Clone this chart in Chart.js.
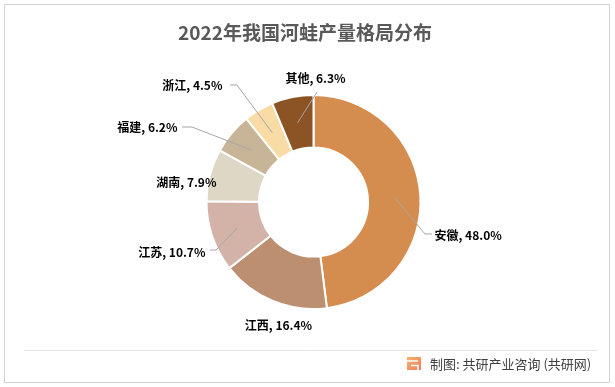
<!DOCTYPE html>
<html>
<head>
<meta charset="utf-8">
<script src="https://cdn.jsdelivr.net/npm/chart.js@4.4.1/dist/chart.umd.min.js"></script>
<style>
  html, body { margin: 0; padding: 0; background: #fff; }
  #pie { display: block; }
</style>
</head>
<body>
<canvas id="pie" width="615" height="387"></canvas>
<script>
var provinces = ["安徽", "江西", "江苏", "湖南", "福建", "浙江", "其他"];
var shares = [48.0, 16.4, 10.7, 7.9, 6.2, 4.5, 6.3];
var sliceColors = ["#D58D4F", "#BB8F6F", "#D3B3A8", "#DED7C5", "#C8B497", "#F9DBA6", "#8C5325"];

var titleText = "2022年我国河蛙产量格局分布";
var sourceText = "制图: 共研产业咨询 (共研网)";

// label placement relative to the doughnut centre (layout only)
// t: text anchor, align: text alignment, lead: leader line points after the arc point
var labelLayout = [
  { t: [121, 33], align: "left", lead: [[111.5, 32], [118.5, 32]] },
  { t: [-35, 123], align: "center", lead: null },
  { t: [-108, 50], align: "right", lead: [[-97.5, 48], [-103.5, 48]] },
  { t: [-97, -20], align: "right", lead: null },
  { t: [-136, -75], align: "right", lead: [[-121.5, -75], [-131.5, -75]] },
  { t: [-91, -117], align: "right", lead: [[-76.5, -117], [-83.5, -117]] },
  { t: [2, -124], align: "center", lead: [[3.5, -110]] }
];

var CJK = '"Noto Sans CJK SC", "Noto Sans", sans-serif';

var decorPlugin = {
  id: "decor",
  beforeDraw: function(chart) {
    var ctx = chart.ctx;
    ctx.save();
    ctx.fillStyle = "#ffffff";
    ctx.fillRect(0, 0, chart.width, chart.height);
    ctx.restore();
  },
  afterDraw: function(chart) {
    var ctx = chart.ctx;
    ctx.save();

    // frame
    ctx.strokeStyle = "#d4d4d4";
    ctx.lineWidth = 1;
    ctx.strokeRect(4.5, 4.5, 605, 378);

    // title
    ctx.fillStyle = "#595959";
    ctx.font = "bold 19px " + CJK;
    ctx.textAlign = "center";
    ctx.textBaseline = "middle";
    ctx.fillText(titleText, 305, 33);

    // footer rule
    ctx.strokeStyle = "#e3e3e3";
    ctx.beginPath();
    ctx.moveTo(24, 350.5);
    ctx.lineTo(597, 350.5);
    ctx.stroke();

    // logo
    var g = ctx.createLinearGradient(407, 357, 421, 371);
    g.addColorStop(0, "#F9B36B");
    g.addColorStop(1, "#F07A5A");
    ctx.fillStyle = g;
    ctx.fillRect(407, 357, 14, 13);
    ctx.strokeStyle = "#ffffff";
    ctx.lineWidth = 1.6;
    ctx.beginPath();
    ctx.moveTo(407, 361);
    ctx.lineTo(418, 361);
    ctx.moveTo(411, 365.5);
    ctx.lineTo(418, 365.5);
    ctx.lineTo(418, 370);
    ctx.stroke();

    // source
    ctx.fillStyle = "#404040";
    ctx.font = "13px " + CJK;
    ctx.textAlign = "left";
    ctx.fillText(sourceText, 430, 364);

    // data labels with leader lines
    var meta = chart.getDatasetMeta(0);
    meta.data.forEach(function(arc, i) {
      var p = arc.getProps(["x", "y", "startAngle", "endAngle", "innerRadius", "outerRadius"], true);
      var lay = labelLayout[i];
      var mid = (p.startAngle + p.endAngle) / 2;
      var r = (p.innerRadius + p.outerRadius) / 2;
      if (lay.lead) {
        ctx.strokeStyle = "#a6a6a6";
        ctx.lineWidth = 1;
        ctx.beginPath();
        ctx.moveTo(p.x + Math.cos(mid) * r, p.y + Math.sin(mid) * r);
        lay.lead.forEach(function(pt) {
          ctx.lineTo(p.x + pt[0], p.y + pt[1]);
        });
        ctx.stroke();
      }
      ctx.fillStyle = "#000000";
      ctx.font = "bold 12px " + CJK;
      ctx.textAlign = lay.align;
      ctx.textBaseline = "middle";
      ctx.fillText(provinces[i] + ", " + shares[i].toFixed(1) + "%", p.x + lay.t[0], p.y + lay.t[1]);
    });

    ctx.restore();
  }
};

var chart = new Chart(document.getElementById("pie").getContext("2d"), {
  type: "doughnut",
  data: {
    labels: provinces,
    datasets: [{
      data: shares,
      backgroundColor: sliceColors,
      borderColor: "#ffffff",
      borderWidth: 2,
      hoverOffset: 0
    }]
  },
  options: {
    responsive: false,
    animation: false,
    cutout: "51%",
    layout: { padding: { top: 94, bottom: 77, left: 12, right: 0 } },
    plugins: {
      legend: { display: false },
      tooltip: { enabled: false },
      title: { display: false }
    }
  },
  plugins: [decorPlugin]
});
</script>
</body>
</html>
